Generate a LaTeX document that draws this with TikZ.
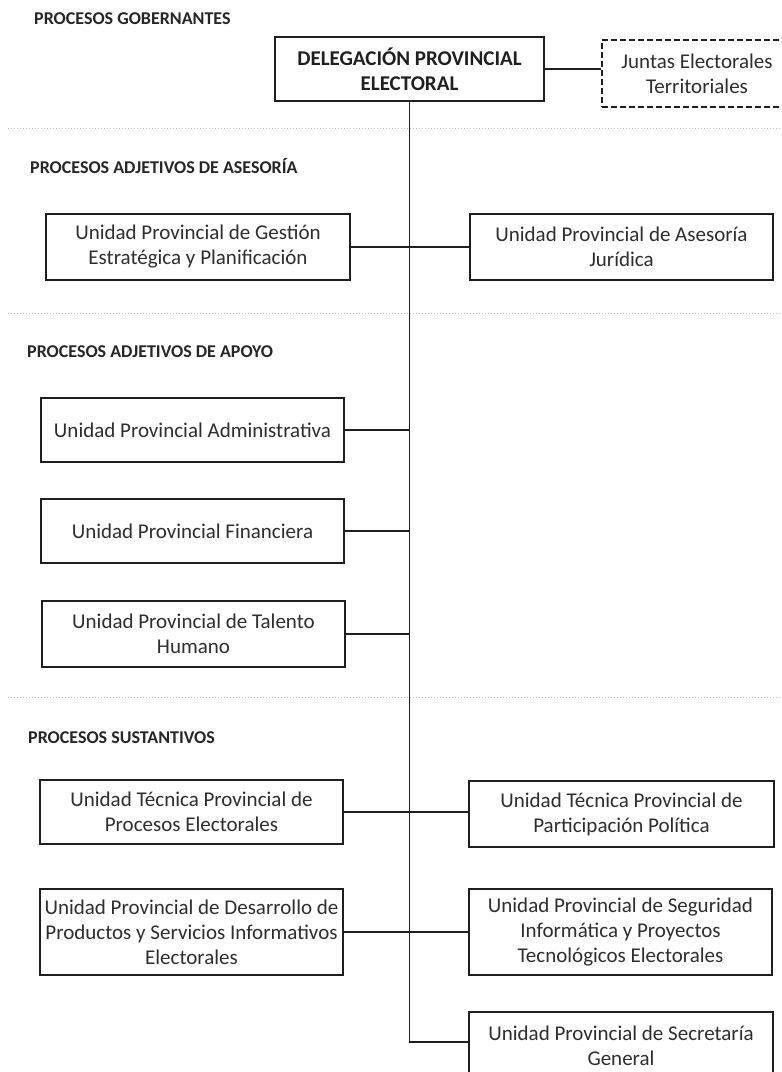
\documentclass[tikz,border=0pt]{standalone}
\usepackage{fontspec}
\setmainfont{Carlito}
\begin{document}
\begin{tikzpicture}[x=1pt,y=-1pt,
  box/.style={draw=black!88, line width=1.8pt, rectangle, align=center, inner sep=0pt,
    font=\fontsize{21}{25}\selectfont, text=black!82},
  dbox/.style={box, dashed, dash pattern=on 6pt off 3pt, line width=1.4pt},
  bbox/.style={box, font=\fontsize{21}{25}\selectfont\bfseries, text=black!88},
  head/.style={anchor=west, inner sep=0pt, font=\fontsize{18}{21}\selectfont\bfseries, text=black!85},
  link/.style={draw=black!88, line width=1.6pt},
  sep/.style={draw=black!25, line width=1pt, dotted}]
\useasboundingbox (0,0) rectangle (782,1072);
\fill[white] (0,0) rectangle (782,1072);

% headings
\node[head] (h1) at (34,19) {PROCESOS GOBERNANTES};
\node[head] (h2) at (30,166) {PROCESOS ADJETIVOS DE ASESORÍA};
\node[head] (h3) at (27,352) {PROCESOS ADJETIVOS DE APOYO};
\node[head] (h4) at (28,738) {PROCESOS SUSTANTIVOS};

% separators
\draw[sep] (8,128) -- (782,128);
\draw[sep] (8,313) -- (782,313);
\draw[sep] (8,697) -- (782,697);

% boxes
\node[bbox, minimum width=269pt, minimum height=64pt] (del) at (409.5,69) {DELEGACIÓN PROVINCIAL\\ELECTORAL};
\node[dbox, minimum width=190pt, minimum height=67pt] (jun) at (697,73.5) {Juntas Electorales\\Territoriales};
\node[box, minimum width=304pt, minimum height=66pt] (gest) at (198,247) {Unidad Provincial de Gestión\\Estratégica y Planificación};
\node[box, minimum width=303pt, minimum height=66pt] (jur) at (621.5,247) {Unidad Provincial de Asesoría\\Jurídica};
\node[box, minimum width=303pt, minimum height=64pt] (adm) at (192.5,430) {Unidad Provincial Administrativa};
\node[box, minimum width=303pt, minimum height=64pt] (fin) at (192.5,531) {Unidad Provincial Financiera};
\node[box, minimum width=303pt, minimum height=66pt] (tal) at (193.5,634) {Unidad Provincial de Talento\\Humano};
\node[box, minimum width=303pt, minimum height=64pt] (tec) at (191.5,812) {Unidad Técnica Provincial de\\Procesos Electorales};
\node[box, minimum width=305pt, minimum height=66pt] (par) at (621.5,814) {Unidad Técnica Provincial de\\Participación Política};
\node[box, minimum width=303pt, minimum height=86pt] (des) at (191.5,932) {Unidad Provincial de Desarrollo de\\Productos y Servicios Informativos\\Electorales};
\node[box, minimum width=303pt, minimum height=86pt] (seg) at (620.5,932) {Unidad Provincial de Seguridad\\Informática y Proyectos\\Tecnológicos Electorales};
\node[box, minimum width=304pt, minimum height=68pt] (sec) at (621,1046) {Unidad Provincial de Secretaría\\General};

% connectors
\coordinate (tend) at (409.5,1042);
\draw[link] (del.east) -- (del.east -| jun.west);
\draw[link] (del.south) -- (tend) -- (tend -| sec.west);
\draw[link] (gest.east) -- (gest.east -| jur.west);
\draw[link] (adm.east) -- (adm.east -| tend);
\draw[link] (fin.east) -- (fin.east -| tend);
\draw[link] (tal.east) -- (tal.east -| tend);
\draw[link] (tec.east) -- (tec.east -| par.west);
\draw[link] (des.east) -- (des.east -| seg.west);
\end{tikzpicture}
\end{document}
